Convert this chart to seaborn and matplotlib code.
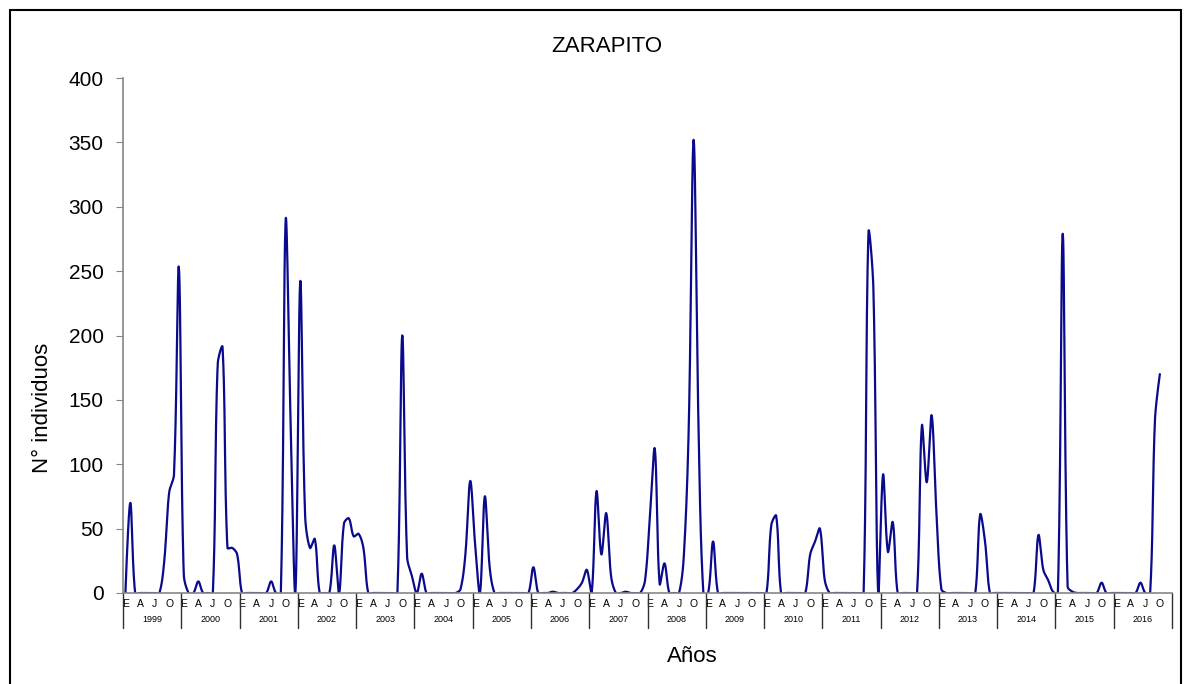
import numpy as np
import pandas as pd
import seaborn as sns
import matplotlib.pyplot as plt
from matplotlib.patches import Rectangle

years = list(range(1999, 2017))
month_labels = ['E', 'A', 'J', 'O']

# monthly counts, Jan..Dec
v1999 = [0, 70, 0, 0, 0, 0, 0, 0, 25, 78, 92, 253]
v2000 = [15, 0, 0, 9, 0, 0, 0, 178, 191, 35, 35, 30]
v2001 = [0, 0, 0, 0, 0, 0, 9, 0, 0, 290, 135, 0]
v2002 = [242, 60, 35, 42, 0, 0, 0, 37, 0, 54, 58, 44]
v2003 = [46, 35, 0, 0, 0, 0, 0, 0, 0, 200, 28, 13]
v2004 = [0, 15, 0, 0, 0, 0, 0, 0, 0, 3, 30, 87]
v2005 = [38, 0, 75, 20, 0, 0, 0, 0, 0, 0, 0, 0]
v2006 = [20, 0, 0, 0, 1, 0, 0, 0, 0, 3, 8, 18]
v2007 = [0, 79, 30, 62, 13, 0, 0, 1, 0, 0, 0, 10]
v2008 = [60, 112, 7, 23, 0, 0, 0, 30, 130, 352, 130, 0]
v2009 = [0, 40, 0, 0, 0, 0, 0, 0, 0, 0, 0, 0]
v2010 = [0, 53, 60, 0, 0, 0, 0, 0, 0, 30, 40, 50]
v2011 = [10, 0, 0, 0, 0, 0, 0, 0, 0, 280, 238, 0]
v2012 = [92, 32, 55, 0, 0, 0, 0, 0, 130, 86, 138, 62]
v2013 = [3, 0, 0, 0, 0, 0, 0, 0, 61, 40, 0, 0]
v2014 = [0, 0, 0, 0, 0, 0, 0, 0, 45, 18, 10, 1]
v2015 = [0, 279, 5, 1, 0, 0, 0, 0, 0, 8, 0, 0]
v2016 = [0, 0, 0, 0, 0, 8, 0, 0, 135, 170, np.nan, np.nan]

counts = np.array(v1999 + v2000 + v2001 + v2002 + v2003 + v2004 + v2005 + v2006 + v2007
                  + v2008 + v2009 + v2010 + v2011 + v2012 + v2013 + v2014 + v2015 + v2016,
                  dtype=float)


def smooth(y, sx=4.86, sy=1.2875, tension=1/3, n=30):
    # excel-like smoothed line: bezier with chord-length scaled control points (screen space)
    y = y[~np.isnan(y)]
    P = np.column_stack([(np.arange(len(y)) + 0.5) * sx, y * sy])
    m = len(P)
    c_in = P.copy()
    c_out = P.copy()
    for i in range(1, m - 1):
        d01 = np.hypot(*(P[i] - P[i - 1]))
        d12 = np.hypot(*(P[i + 1] - P[i]))
        tot = d01 + d12
        if tot == 0:
            continue
        tan = P[i + 1] - P[i - 1]
        c_in[i] = P[i] - tension * d01 / tot * tan
        c_out[i] = P[i] + tension * d12 / tot * tan
    t = np.linspace(0, 1, n, endpoint=False)[:, None]
    segs = []
    for i in range(m - 1):
        a, b, c, d = P[i], c_out[i], c_in[i + 1], P[i + 1]
        segs.append((1 - t)**3 * a + 3 * (1 - t)**2 * t * b + 3 * (1 - t) * t**2 * c + t**3 * d)
    segs.append(P[-1:])
    pts = np.vstack(segs)
    return pts[:, 0] / sx, pts[:, 1] / sy


sx, sy = smooth(counts)
df = pd.DataFrame({'x': sx, 'y': sy})

sns.set_style('white')
plt.rcParams['font.family'] = ['Liberation Sans', 'DejaVu Sans']
plt.rcParams['text.color'] = 'black'
plt.rcParams['xtick.color'] = 'black'
plt.rcParams['ytick.color'] = 'black'

fig = plt.figure(figsize=(11.84, 6.84), dpi=100)
ax = fig.add_axes([123 / 1184, 1 - 593 / 684, (1172 - 123) / 1184, (593 - 78) / 684])

sns.lineplot(data=df, x='x', y='y', ax=ax, color='#0a0a8c', lw=1.6, sort=False, estimator=None)

ax.set_xlim(0, 12 * len(years))
ax.set_ylim(0, 400)
ax.set_yticks(range(0, 401, 50))
ax.tick_params(axis='y', labelsize=15, length=5, pad=9, color='#868686', left=True)

pos = [12 * k + m + 0.5 for k in range(len(years)) for m in (0, 3, 6, 9)]
ax.set_xticks(pos)
ax.set_xticklabels(month_labels * len(years), fontsize=7.5)
ax.tick_params(axis='x', length=0, pad=4)

tr = ax.get_xaxis_transform()
for k, yr in enumerate(years):
    ax.text(12 * k + 6, -0.051, str(yr), transform=tr, ha='center', va='center', fontsize=6.5)
for b in range(0, 12 * len(years) + 1, 12):
    ax.plot([b, b], [0, -0.068], transform=tr, clip_on=False, color='#303030', lw=1)

for s in ['top', 'right']:
    ax.spines[s].set_visible(False)
for s in ['left', 'bottom']:
    ax.spines[s].set_color('#868686')
    ax.spines[s].set_linewidth(1.2)

ax.set_xlabel('')
ax.set_ylabel('')
fig.text(607 / 1184, 1 - 47 / 684, 'ZARAPITO', ha='center', va='center', fontsize=16)
fig.text(42 / 1184, 1 - 408 / 684, 'N° individuos', rotation=90, ha='center', va='center', fontsize=16)
fig.text(692 / 1184, 1 - 656 / 684, 'Años', ha='center', va='center', fontsize=16)

fig.patches.append(Rectangle((10 / 1184, -0.05), (1181 - 10) / 1184, 1.05 - 10 / 684,
                             transform=fig.transFigure, fill=False, ec='black', lw=1.5))

fig.savefig('out.png', dpi=100)
